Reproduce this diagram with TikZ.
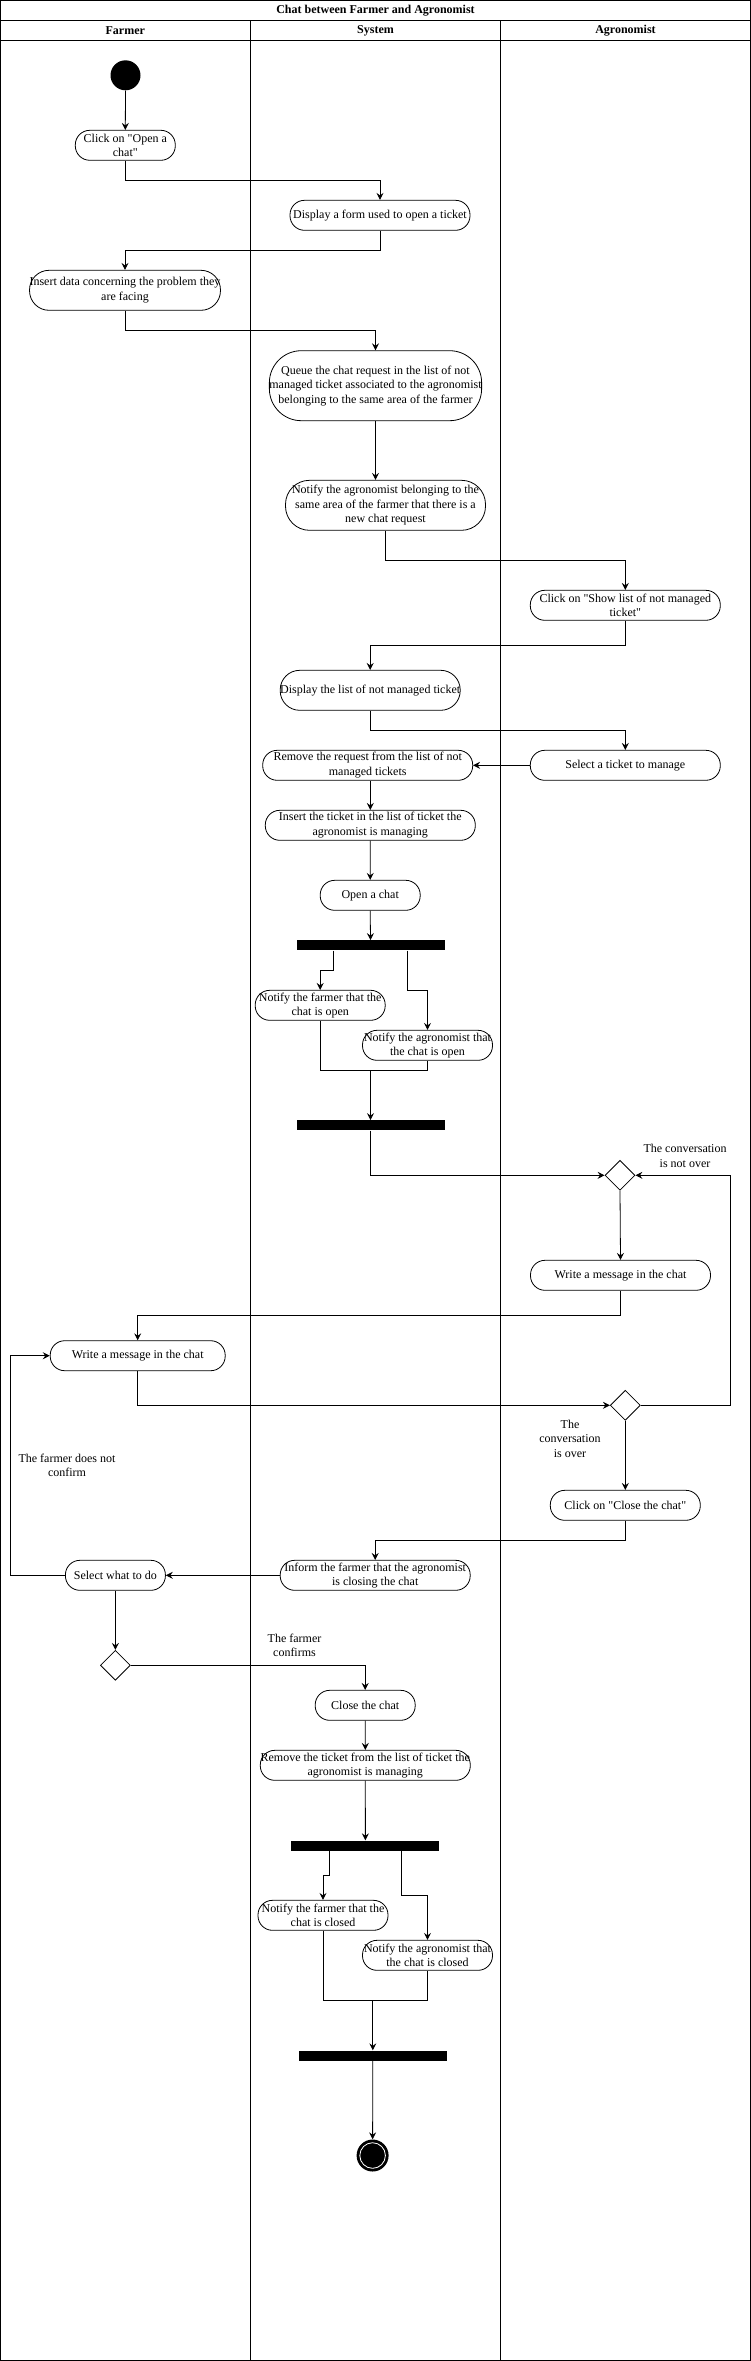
\documentclass[tikz,border=0pt]{standalone}
\usepackage{fontspec}
\setmainfont{Liberation Serif}[Ligatures=TeXOff]
\usetikzlibrary{arrows.meta,shapes.geometric}
\begin{document}
\begin{tikzpicture}[x=1pt,y=-1pt,
  every node/.style={font=\fontsize{12}{14.5}\selectfont},
  act/.style={draw, rounded corners=14.5pt, align=center, inner xsep=0pt, inner ysep=0pt, minimum height=30pt, line width=0.8pt},
  bar/.style={fill=black, draw=none, minimum width=148pt, minimum height=10pt, inner sep=0pt},
  dec/.style={draw, diamond, minimum width=30pt, minimum height=30pt, inner sep=0pt, line width=0.8pt},
  lbl/.style={align=center, inner sep=0pt},
  arr/.style={draw, line width=0.8pt, -{Stealth[length=7pt,width=7pt,inset=2.5pt]}},
  ln/.style={draw, line width=0.8pt},
  frame/.style={draw, line width=1pt},
  hdr/.style={font=\fontsize{12}{14.5}\selectfont\bfseries, inner sep=0pt}
]
\useasboundingbox (0,0) rectangle (751,2361);
% frame and lanes
\draw[frame] (0.5,0.5) rectangle (750.5,2360.5);
\draw[frame] (0.5,20.3) -- (750.5,20.3);
\draw[frame] (0.5,40.7) -- (750.5,40.7);
\draw[frame] (250.5,20.3) -- (250.5,2360.5);
\draw[frame] (500.5,20.3) -- (500.5,2360.5);
\node[hdr] (title) at (375.5,10.8) {Chat between Farmer and Agronomist};
\node[hdr] (hfarmer) at (125.3,31) {Farmer};
\node[hdr] (hsystem) at (375.5,31) {System};
\node[hdr] (hagro) at (625.5,31) {Agronomist};

% nodes
\node[circle, fill=black, minimum size=30pt, inner sep=0pt] (start) at (125.5,75.3) {};
\node[act, minimum width=100pt] (clickopen) at (125.3,145.3) {Click on "Open a\\chat"};
\node[act, minimum width=180pt] (form) at (380,215.3) {Display a form used to open a ticket};
\node[act, minimum width=190pt, minimum height=40pt, rounded corners=19.5pt] (insert) at (125,290.3) {Insert data concerning the problem they\\are facing};
\node[act, minimum width=210pt, minimum height=70pt, rounded corners=32pt] (queue) at (375.5,385.7) {Queue the chat request in the list of not\\managed ticket associated to the agronomist\\belonging to the same area of the farmer};
\node[act, minimum width=200pt, minimum height=50pt, rounded corners=24pt] (notifyag) at (385.5,505.3) {Notify the agronomist belonging to the\\same area of the farmer that there is a\\new chat request};
\node[act, minimum width=190pt] (showlist) at (625.3,605.3) {Click on "Show list of not managed\\ticket"};
\node[act, minimum width=180pt, minimum height=40pt, rounded corners=19.5pt] (displist) at (370.2,690.3) {Display the list of not managed ticket};
\node[act, minimum width=190pt] (select) at (625.3,765.3) {Select a ticket to manage};
\node[act, minimum width=210pt] (remove) at (367.7,765.3) {Remove the request from the list of not\\managed tickets};
\node[act, minimum width=210pt] (insticket) at (370.3,825.3) {Insert the ticket in the list of ticket the\\agronomist is managing};
\node[act, minimum width=100pt] (openchat) at (370.2,895.3) {Open a chat};
\node[bar] (fork1) at (370.5,945.3) {};
\node[act, minimum width=130pt] (notfarm) at (320.2,1005.3) {Notify the farmer that the\\chat is open};
\node[act, minimum width=130pt] (notag) at (427.5,1045.3) {Notify the agronomist that\\the chat is open};
\node[bar] (join1) at (370.5,1125.3) {};
\node[dec] (dia1) at (620,1175.3) {};
\node[act, minimum width=180pt] (writeag) at (620.5,1275.3) {Write a message in the chat};
\node[act, minimum width=175pt] (writefarm) at (137.7,1355.7) {Write a message in the chat};
\node[dec] (dia2) at (625.3,1405.3) {};
\node[act, minimum width=150pt] (closeclick) at (625.3,1505.3) {Click on "Close the chat"};
\node[act, minimum width=190pt] (inform) at (375.2,1575.3) {Inform the farmer that the agronomist\\is closing the chat};
\node[act, minimum width=100pt] (selwhat) at (115.4,1575.3) {Select what to do};
\node[dec] (dia3) at (115.4,1665.3) {};
\node[act, minimum width=100pt] (close) at (365.2,1705.3) {Close the chat};
\node[act, minimum width=210pt] (remticket) at (365.3,1765.3) {Remove the ticket from the list of ticket the\\agronomist is managing};
\node[bar] (fork2) at (365.4,1845.5) {};
\node[act, minimum width=130pt] (notfarmc) at (323,1915.3) {Notify the farmer that the\\chat is closed};
\node[act, minimum width=130pt] (notagc) at (427.5,1955.3) {Notify the agronomist that\\the chat is closed};
\node[bar] (join2) at (372.8,2055.5) {};
\node[circle, fill=black, minimum size=32pt, inner sep=0pt] (end) at (372.6,2155.5) {};
\draw[white, line width=0.8pt] (end.center) circle[radius=12.8pt];

% labels
\node[lbl] (lnotover) at (685,1155.8) {The conversation\\is not over};
\node[lbl] (lover) at (570,1438.6) {The\\conversation\\is over};
\node[lbl] (lnotconf) at (67,1465.3) {The farmer does not\\confirm};
\node[lbl] (lconf) at (294.5,1645.5) {The farmer\\confirms};

% coordinates
\coordinate (m1) at (370.5,1070.3);
\coordinate (m2) at (372.8,2000.3);
\coordinate (loopR) at (730.4,1405.3);
\coordinate (loopL) at (10.5,1575.3);

% connectors
\draw[arr] (start.south) -- (clickopen.north);
\draw[arr] (clickopen.south) -- ++(0,20) -| (form.north);
\draw[arr] (form.south) -- ++(0,20) -| (insert.north);
\draw[arr] (insert.south) -- ++(0,20) -| (queue.north);
\draw[arr] (queue.south) -- (queue.south |- notifyag.north);
\draw[arr] (notifyag.south) -- ++(0,30) -| (showlist.north);
\draw[arr] (showlist.south) -- ++(0,25) -| (displist.north);
\draw[arr] (displist.south) -- ++(0,20) -| (select.north);
\draw[arr] (select.west) -- (remove.east);
\draw[arr] (insticket.north |- remove.south) -- (insticket.north);
\draw[arr] (insticket.south) -- (openchat.north);
\draw[arr] (openchat.south) -- (fork1.north);
\draw[arr] ([xshift=-36.7pt]fork1.south) -- ++(0,19.7) -| (notfarm.north);
\draw[arr] ([xshift=37.1pt]fork1.south) -- ++(0,39.7) -| (notag.north);
\draw[ln] (notfarm.south) |- (m1) -| (notag.south);
\draw[arr] (m1) -- (join1.north);
\draw[arr] (join1.south) |- (dia1.west);
\draw[arr] (dia1.south) -- (writeag.north);
\draw[arr] (writeag.south) -- ++(0,25) -| (writefarm.north);
\draw[arr] (writefarm.south) |- (dia2.west);
\draw[arr] (dia2.east) -- (loopR) |- (dia1.east);
\draw[arr] (dia2.south) -- (closeclick.north);
\draw[arr] (closeclick.south) -- ++(0,20) -| (inform.north);
\draw[arr] (inform.west) -- (selwhat.east);
\draw[arr] (selwhat.west) -- (loopL) |- (writefarm.west);
\draw[arr] (selwhat.south) -- (dia3.north);
\draw[arr] (dia3.east) -| (close.north);
\draw[arr] (close.south) -- (remticket.north);
\draw[arr] (remticket.south) -- (fork2.north);
\draw[arr] ([xshift=-36.4pt]fork2.south) -- ++(0,24.8) -| (notfarmc.north);
\draw[arr] ([xshift=36.4pt]fork2.south) -- ++(0,44.8) -| (notagc.north);
\draw[ln] (notfarmc.south) |- (m2) -| (notagc.south);
\draw[arr] (m2) -- (join2.north);
\draw[arr] (join2.south) -- (end.north);
\end{tikzpicture}
\end{document}
